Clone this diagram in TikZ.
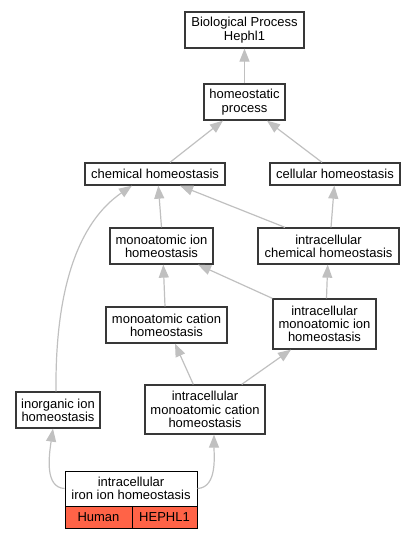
\documentclass[tikz,border=0pt]{standalone}
\usepackage{fontspec}
\setmainfont{Liberation Sans}
\usetikzlibrary{arrows.meta,calc}
\definecolor{edgegray}{HTML}{C0C0C0}
\definecolor{boxborder}{HTML}{383838}
\definecolor{tomatored}{HTML}{FF6347}
\begin{document}
\begin{tikzpicture}[x=1pt,y=-1pt,
  box/.style={draw=boxborder, line width=1.3pt, fill=white, align=center, inner sep=0pt,
    font=\fontsize{13}{13.3}\selectfont},
  redcell/.style={draw=black, line width=1pt, fill=tomatored, inner sep=0pt,
    minimum height=22pt, font=\fontsize{13}{13.3}\selectfont},
  edge/.style={draw=edgegray, line width=1.2pt, -{Triangle[length=13pt,width=10pt]}}]
\useasboundingbox (0,0) rectangle (416,539);

\node[box, minimum width=119pt, minimum height=36pt] (bp) at (244.5,30) {Biological Process\\Hephl1};
\node[box, minimum width=81pt, minimum height=36pt] (hp) at (244.5,102) {homeostatic\\process};
\node[box, minimum width=140pt, minimum height=22pt] (chem) at (155,174) {chemical homeostasis};
\node[box, minimum width=130pt, minimum height=22pt] (cell) at (335,174) {cellular homeostasis};
\node[box, minimum width=103pt, minimum height=36pt] (mono) at (161.5,246) {monoatomic ion\\homeostasis};
\node[box, minimum width=141pt, minimum height=36pt] (icchem) at (328.5,246) {intracellular\\chemical homeostasis};
\node[box, minimum width=121pt, minimum height=36pt] (cation) at (166.5,325) {monoatomic cation\\homeostasis};
\node[box, minimum width=103pt, minimum height=50pt] (icmono) at (324.5,324) {intracellular\\monoatomic ion\\homeostasis};
\node[box, minimum width=84pt, minimum height=36pt] (inorg) at (58,410) {inorganic ion\\homeostasis};
\node[box, minimum width=120pt, minimum height=49pt] (iccation) at (205,409.5) {intracellular\\monoatomic cation\\homeostasis};
\node[box, line width=1pt, draw=black, minimum width=132pt, minimum height=35pt] (iron) at (131,488.5) {intracellular\\iron ion homeostasis};
\node[redcell, minimum width=67pt] (human) at (98.5,517) {Human};
\node[redcell, minimum width=65pt] (hephl) at (164.5,517) {HEPHL1};

\draw[edge] (hp.north) -- (bp.south);
\draw[edge] ([xshift=15pt]chem.north) -- ([xshift=-21.5pt]hp.south);
\draw[edge] ([xshift=-13pt]cell.north) -- ([xshift=22.5pt]hp.south);
\draw[edge] (mono.north) -- ([xshift=3.3pt]chem.south);
\draw[edge] ([xshift=-43.5pt]icchem.north) -- ([xshift=25pt]chem.south);
\draw[edge] ([xshift=2.5pt]icchem.north) -- ([xshift=-0.7pt]cell.south);
\draw[edge] ([xshift=-2pt]inorg.north) .. controls ($(inorg.north)+(-3,-102)$) and ($(chem.south)+(-77,37)$) .. ([xshift=-23pt]chem.south);
\draw[edge] ([xshift=-1.5pt]cation.north) -- ([xshift=1.8pt]mono.south);
\draw[edge] (icmono.north west) -- ([xshift=36.5pt]mono.south);
\draw[edge] ([xshift=2pt]icmono.north) -- ([xshift=-0.8pt]icchem.south);
\draw[edge] ([xshift=-11.7pt]iccation.north) -- ([xshift=8.5pt]cation.south);
\draw[edge] ([xshift=36.7pt]iccation.north) -- ([xshift=-33.5pt]icmono.south);
\draw[edge] (iron.west) .. controls ($(iron.west)+(-20,-1)$) and ($(inorg.south)+(-9,27)$) .. ([xshift=-5pt]inorg.south);
\draw[edge] (iron.east) .. controls ($(iron.east)+(20,-1)$) and ($(iccation.south)+(9,21)$) .. ([xshift=9pt]iccation.south);
\end{tikzpicture}
\end{document}
